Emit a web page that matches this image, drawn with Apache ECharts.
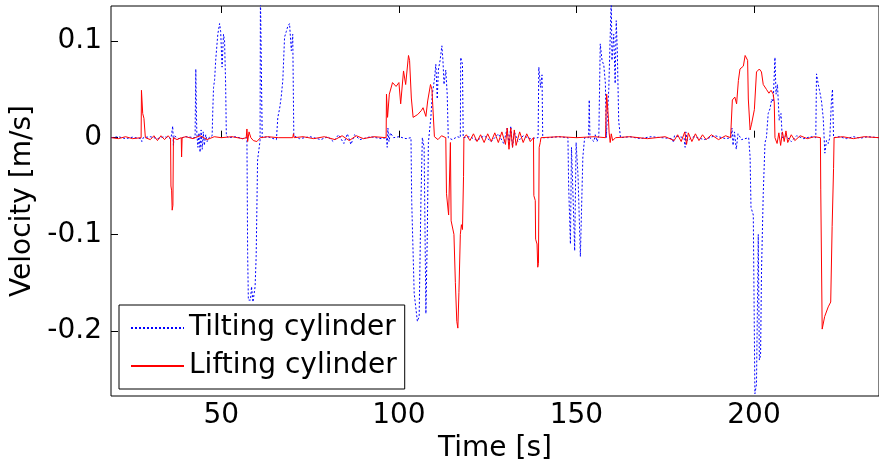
<!DOCTYPE html>
<html>
<head>
<meta charset="utf-8">
<script src="https://cdn.jsdelivr.net/npm/echarts@6/dist/echarts.min.js"></script>
<style>
html,body{margin:0;padding:0;background:#fff;}
#chart{width:879px;height:473px;}
</style>
</head>
<body>
<div id="chart"></div>
<script>
// ---- data ----
const seriesNames = ['Tilting cylinder', 'Lifting cylinder'];
const xTicks = [50, 100, 150, 200];
const yTicks = [-0.2, -0.1, 0, 0.1];

const tiltT = [19.0,21,23,25,27.3,27.6,28,30,32,34,35.8,36.3,36.5,36.7,38,40,42.6,42.8,43.0,43.1,43.4,43.7,44.0,44.3,44.6,44.9,45.2,45.6,46.0,46.5,47.4,47.6,47.8,48.1,48.4,49.0,49.5,49.8,50.2,50.6,50.9,51.2,51.4,52,54,56,57.2,57.4,57.6,58.2,58.5,58.9,59.5,59.8,60.2,60.5,60.9,61.0,61.3,61.5,63,65.5,65.9,66.4,66.85,67.3,67.8,68.3,68.7,69.2,69.7,70.1,70.4,72,75,78,80,81.5,83,84.5,85.5,86.5,87.5,89,92,95,96.5,96.7,96.9,97.2,97.6,98.5,100,102,103.4,103.6,104.3,105.2,105.7,106.2,106.6,107.1,107.6,108.0,108.3,109.0,109.4,110.0,110.4,110.8,111.1,111.6,112.1,112.4,112.7,113.2,113.6,113.9,115,116.5,117.3,117.4,117.9,118.1,120,122,124,126,128,129.5,130.5,131,131.5,132,132.5,133.5,135,137,139.2,139.4,139.9,140.3,140.5,142,145,147.6,147.8,148.3,148.6,148.95,149.5,149.9,150.45,151.1,151.8,152.3,153.4,153.6,153.8,154.9,155.3,155.8,156.3,156.7,157.2,157.7,158.15,158.4,159.1,159.8,160.0,160.5,160.9,161.2,161.5,161.9,162.4,165,168,171,174,177,177.3,177.6,180.3,180.6,180.8,181.2,183,186,189,192,193.5,193.8,194.1,194.5,195.0,195.5,196.5,198.5,198.9,199.15,199.8,200.25,200.7,201.2,201.5,201.85,202.1,202.6,203.1,203.5,204.0,204.5,205.0,205.4,205.9,206.2,206.6,207.1,207.6,207.95,209,210.5,212,214,216,217.4,217.6,218.1,218.5,219.0,219.5,219.95,220.4,220.9,221.35,221.8,222.1,222.4,224,226,228,230,232,235.2];
const tiltV = [0,0.001,-0.001,0.0005,-0.001,-0.004,0,0.001,-0.001,0.001,-0.001,0.012,-0.008,0.002,-0.001,0.001,0,0.071,0.02,0.004,-0.01,0.005,-0.015,0.008,-0.012,0.006,-0.008,0.003,-0.004,0,0.002,0.03,0.052,0.06,0.08,0.107,0.118,0.11,0.073,0.107,0.1,0.056,0.002,0,0.001,-0.001,0,-0.12,-0.168,-0.168,-0.154,-0.17,-0.154,-0.123,-0.023,-0.023,-0.003,0.15,0.15,0,0.001,-0.002,0.021,0.03,0.042,0.059,0.104,0.11,0.115,0.118,0.09,0.107,0.002,-0.001,0.001,-0.002,0.001,-0.004,0.003,-0.006,0.004,-0.007,0.003,-0.002,0.001,-0.001,0,-0.01,0.01,-0.004,0.005,0,0.001,-0.001,0,-0.065,-0.161,-0.19,-0.185,-0.065,0,-0.01,-0.182,-0.099,-0.005,0.021,0.045,0.06,0.076,0.04,0.07,0.08,0.095,0.08,0.055,0.07,0.045,0,-0.002,0.001,0,0.083,0.076,0,0.001,-0.003,0.002,-0.004,0.004,-0.006,0.01,-0.008,0.012,-0.01,0.006,-0.004,0.002,-0.001,0,0.073,0.052,0.065,0,0,0.001,0,-0.05,-0.11,-0.01,-0.05,-0.117,-0.005,-0.04,-0.123,-0.02,0,0,0.039,0,-0.004,0.003,-0.004,0.002,0.097,0.08,0.075,0.056,0,0.05,0.145,0.08,0.107,0.056,0.121,0.09,0.017,0,0.001,-0.001,0.001,0,-0.001,-0.005,0.002,0,-0.01,0.006,-0.003,0.001,-0.002,0.002,-0.001,0,0.01,-0.008,0.006,-0.012,0.004,-0.002,0,-0.02,-0.072,-0.08,-0.265,-0.255,-0.1,-0.23,-0.225,-0.14,-0.058,-0.005,0,0.025,0.03,0.04,0.037,0.083,0.045,0.055,0.018,0.025,0,0.002,-0.004,0.002,-0.001,0.001,0,0.066,0.055,0.048,0.038,0.02,-0.016,-0.003,-0.006,0,0.038,0.05,0,0.001,-0.001,0.001,-0.0005,0.001,0];

const liftT = [19,21,23,25,27.4,27.5,27.7,27.85,28.2,28.5,28.6,30,31,32,33,34,35,35.7,35.8,36.0,36.15,36.35,36.5,37.5,38.7,38.8,38.95,40,42,44,46,48,50,53,56,57.0,57.2,57.4,57.8,58.3,59,60,61,63,66,70.1,70.3,70.5,73,76,79,82,84,86,88,90,93,96.4,96.5,96.8,97.3,98.2,99.2,100.0,100.5,101.3,101.9,102.7,103.0,103.5,104.0,105.3,106.3,106.8,107.6,108.1,108.9,109.3,109.6,110.0,111,112,113.2,113.4,114.0,114.3,114.5,114.7,115.5,115.9,116.3,116.6,116.9,117.3,117.6,117.9,118.2,118.3,119,120,121,122,123,124,125,126,127,128,129,130,130.5,131,131.5,132,132.5,133,134,135,136,137,137.9,138.0,138.4,138.5,138.9,139.1,139.3,139.5,139.8,140.0,145,150,155,158.2,158.3,158.5,158.8,159.0,159.2,159.5,159.8,160.2,161,165,170,175,177.5,178.5,179.5,180.5,181,181.5,182.5,183.5,184.5,185.5,186.5,188,190,192,193.4,193.5,193.9,194.6,195.1,195.6,196.05,197.0,197.5,198.2,198.4,198.9,199.3,200.1,200.7,201.5,202.1,202.6,203.5,204.2,204.8,205.4,205.7,205.9,206.5,207,207.5,208,208.5,209,209.5,210.5,211.5,213,215,217,218.7,218.8,219.2,219.9,220.9,221.6,222.0,222.4,222.55,225,228,231,235.2];
const liftV = [0,-0.001,0.001,-0.001,0,0.049,0.049,0.025,0.02,0.02,0,-0.002,0.002,-0.003,0.002,-0.002,0.002,-0.001,-0.05,-0.055,-0.075,-0.07,0,-0.002,0,-0.02,0,0.001,-0.001,0.002,-0.002,0.001,0,0.001,-0.001,0,0.009,-0.004,0.006,0,-0.003,-0.004,0,0.001,0,0,0.004,0,0.001,-0.001,0.001,-0.002,0.002,-0.003,0.002,-0.001,0.001,0,0.045,0.021,0.045,0.057,0.053,0.057,0.035,0.069,0.055,0.085,0.08,0.041,0.021,0.024,0.028,0.031,0.022,0.038,0.055,0.05,0.052,0.001,-0.002,0.002,0,-0.058,-0.08,-0.082,-0.005,-0.086,-0.1,-0.15,-0.19,-0.197,-0.16,-0.1,-0.09,-0.095,-0.04,0,0.003,-0.003,0.004,-0.004,0.003,-0.005,0.004,-0.004,0.005,-0.005,0.006,-0.007,0.01,-0.012,0.01,-0.01,0.008,-0.008,0.006,-0.005,0.004,-0.004,0,-0.06,-0.065,-0.105,-0.11,-0.134,-0.13,-0.01,-0.005,0,0.001,0,0.001,0,0.02,0.045,0.045,0.02,0.005,-0.005,0.004,-0.003,0,0.001,-0.001,0.001,-0.003,0.003,-0.004,0.006,-0.007,0.005,-0.004,0.004,-0.003,0.003,-0.002,0.003,-0.002,0.002,0,0.001,0.039,0.042,0.035,0.059,0.071,0.074,0.085,0.08,0.04,0.008,0.014,0.029,0.068,0.071,0.068,0.055,0.05,0.046,0.049,0.045,0.037,0,-0.006,0.005,-0.008,0.006,-0.004,0.007,-0.005,0.003,-0.003,0.002,-0.001,0.001,0,-0.054,-0.198,-0.185,-0.175,-0.17,-0.092,-0.032,0,0.001,-0.001,0.001,0];

const tiltData = tiltT.map((t, i) => [t, tiltV[i]]);
const liftData = liftT.map((t, i) => [t, liftV[i]]);

const FONT = 'DejaVu Sans';
const xMin = 18.92, xMax = 235.2, yMin = -0.2672, yMax = 0.1362;

const chart = echarts.init(document.getElementById('chart'), null, {renderer: 'canvas'});
chart.setOption({
  animation: false,
  backgroundColor: '#fff',
  textStyle: {fontFamily: FONT},
  grid: {left: 111, top: 6, right: -2, bottom: 77, show: true, borderColor: '#000', borderWidth: 1, backgroundColor: 'transparent'},
  legend: {
    orient: 'vertical', left: 119, top: 305,
    backgroundColor: '#fff', borderColor: '#000', borderWidth: 1,
    padding: [8, 8, 8, 11], itemGap: 8, itemWidth: 53, itemHeight: 14,
    itemStyle: {opacity: 0, borderWidth: 0},
    textStyle: {fontFamily: FONT, fontSize: 28, color: '#000', lineHeight: 30},
    data: seriesNames
  },
  xAxis: [{
    type: 'value', min: xMin, max: xMax, position: 'bottom',
    name: 'Time [s]', nameLocation: 'middle', nameGap: 36,
    nameTextStyle: {fontFamily: FONT, fontSize: 28, color: '#000'},
    axisLine: {show: false},
    splitLine: {show: false},
    axisTick: {inside: true, length: 7, lineStyle: {color: '#000'}, customValues: xTicks},
    axisLabel: {fontFamily: FONT, fontSize: 28, color: '#000', margin: 6, customValues: xTicks, formatter: v => String(v)}
  }, {
    type: 'value', min: xMin, max: xMax, position: 'top',
    axisLine: {show: false}, splitLine: {show: false},
    axisTick: {inside: true, length: 7, lineStyle: {color: '#000'}, customValues: xTicks},
    axisLabel: {show: false}
  }],
  yAxis: [{
    type: 'value', min: yMin, max: yMax, position: 'left',
    name: 'Velocity [m/s]', nameLocation: 'middle', nameGap: 64, nameRotate: 90,
    nameTextStyle: {fontFamily: FONT, fontSize: 28, color: '#000'},
    axisLine: {show: false}, splitLine: {show: false},
    axisTick: {inside: true, length: 7, lineStyle: {color: '#000'}, customValues: yTicks},
    axisLabel: {fontFamily: FONT, fontSize: 28, color: '#000', margin: 9, customValues: yTicks, formatter: v => String(Math.round(v * 10) / 10)}
  }],
  series: [{
    name: seriesNames[0], type: 'line', data: tiltData, xAxisIndex: 0,
    symbol: 'none', showSymbol: false, clip: true,
    lineStyle: {color: '#0000ff', width: 1, type: [2, 2]},
    itemStyle: {color: '#0000ff'}
  }, {
    name: seriesNames[1], type: 'line', data: liftData, xAxisIndex: 0,
    symbol: 'none', showSymbol: false, clip: true,
    lineStyle: {color: '#ff0000', width: 1},
    itemStyle: {color: '#ff0000'}
  }]
});
</script>
</body>
</html>
